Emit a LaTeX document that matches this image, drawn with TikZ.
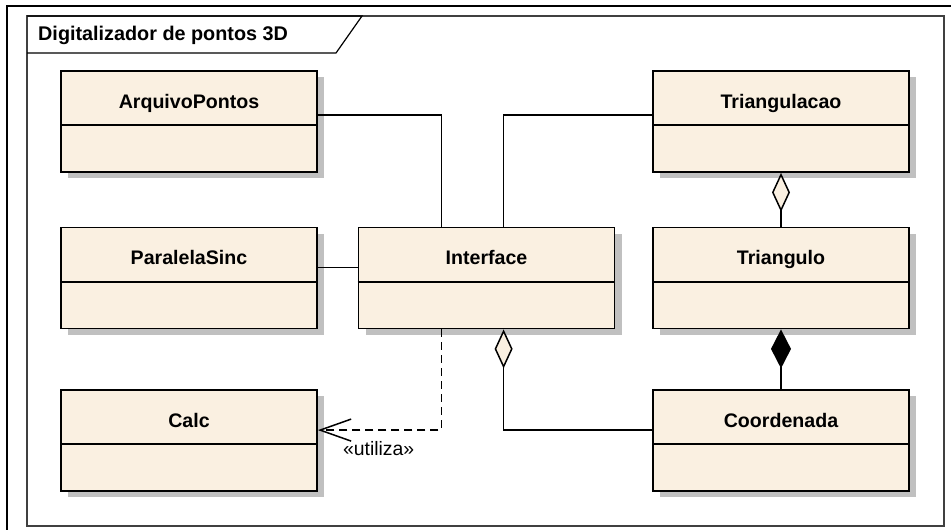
\documentclass[tikz,border=0pt]{standalone}
\usepackage{fontspec}
\setmainfont{Liberation Sans}
\usetikzlibrary{arrows.meta,shadows}

\definecolor{classfill}{HTML}{FAF0E1}
\definecolor{shadowgray}{HTML}{C0C0C0}
\definecolor{framegray}{HTML}{404040}

\tikzset{
  classbox/.style={draw=black, line width=1.8pt, fill=classfill,
    minimum width=256pt, minimum height=101pt, inner sep=0pt,
    drop shadow={shadow xshift=7pt, shadow yshift=-6pt, fill=shadowgray, opacity=1}},
  classname/.style={anchor=base, inner sep=0pt,
    font=\bfseries\fontsize{19.6}{22}\selectfont},
  divider/.style={line width=1.8pt},
  assoc/.style={line width=1.5pt},
  aggdiamond/.style={{Diamond[open, fill=classfill, length=39pt, width=18pt, line width=1.5pt]}-},
  compdiamond/.style={{Diamond[fill=black, length=39pt, width=20pt]}-},
  depline/.style={line width=1.5pt, dash pattern=on 8pt off 5pt,
    -{Straight Barb[length=31pt, width=22pt, line width=1.5pt]}},
  stereo/.style={inner sep=0pt, font=\fontsize{19.4}{22}\selectfont},
  pkgtitle/.style={anchor=base west, inner sep=0pt,
    font=\bfseries\fontsize{19.8}{22}\selectfont}
}

\begin{document}
\begin{tikzpicture}[x=1pt, y=-1pt]
\useasboundingbox (0,0) rectangle (951,530);

% page border
\draw[line width=1.5pt] (7,530) -- (7,6) -- (951,6);

% package frame with name tab
\draw[framegray, line width=1.2pt] (27,16) rectangle (944,526);
\draw[line width=1.2pt] (27,16) -- (362,16) -- (336,53) -- (27,53);
\node[pkgtitle] (pkg) at (38,40) {Digitalizador de pontos 3D};

% classes
\node[classbox] (arq)   at (189,121.5) {};
\node[classbox] (par)   at (189,278)   {};
\node[classbox] (calc)  at (189,440.5) {};
\node[classbox] (iface) at (486.5,278) {};
\node[classbox] (tcao)  at (781,121.5) {};
\node[classbox] (tri)   at (781,278)   {};
\node[classbox] (coord) at (781,440.5) {};

\foreach \n/\t in {arq/ArquivoPontos, par/ParalelaSinc, calc/Calc,
                   iface/Interface, tcao/Triangulacao, tri/Triangulo,
                   coord/Coordenada}{
  \node[classname] (\n-name) at ([yshift=-38pt]\n.north) {\t};
  \draw[divider] ([yshift=-55pt]\n.north west) -- ([yshift=-55pt]\n.north east);
}

% associations
\draw[assoc] ([yshift=-45pt]arq.north east) -| ([xshift=84pt]iface.north west);
\draw[assoc] ([yshift=-45pt]tcao.north west) -| ([xshift=146pt]iface.north west);
\draw[assoc] ([yshift=-41pt]par.north east) -- ([yshift=-41pt]iface.north west);

% aggregations and composition
\draw[assoc, aggdiamond] ([xshift=146pt]iface.south west) |- ([yshift=-41pt]coord.north west);
\draw[assoc, aggdiamond] (tcao.south) -- (tri.north);
\draw[assoc, compdiamond] (tri.south) -- (coord.north);

% dependency
\draw[depline] ([xshift=84pt]iface.south west) |- ([yshift=-41pt]calc.north east);
\node[stereo, anchor=base west] (uses) at ([xshift=25pt, yshift=-66pt]calc.north east) {«utiliza»};
\end{tikzpicture}
\end{document}
